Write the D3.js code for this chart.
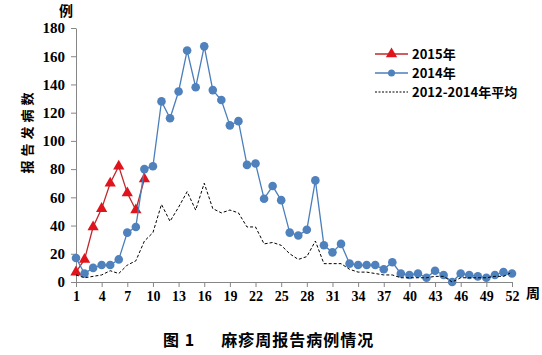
<!DOCTYPE html>
<html><head><meta charset="utf-8">
<script src="https://cdn.jsdelivr.net/npm/d3@7"></script>
<style>
html,body{margin:0;padding:0;background:#fff;overflow:hidden;}
svg{display:block;}
</style></head>
<body><svg id="chart" width="542" height="355"></svg>
<script>
const weeks = [1,2,3,4,5,6,7,8,9,10,11,12,13,14,15,16,17,18,19,20,21,22,23,24,25,26,27,28,29,30,31,32,33,34,35,36,37,38,39,40,41,42,43,44,45,46,47,48,49,50,51,52];
const xTickLabels = [1,4,7,10,13,16,19,22,25,28,31,34,37,40,43,46,49,52];
const yTickLabels = [0,20,40,60,80,100,120,140,160,180];
const cases2015 = [7,16,39,52,70,82,63,51,73];
const cases2014 = [17,6,10,12,12,16,35,39,80,82,128,116,135,164,138,167,136,129,111,114,83,84,59,68,58,35,33,37,72,26,21,27,13,12,12,12,9,14,6,5,6,3,8,5,0,6,5,4,3,5,7,6];
const avg2012_2014 = [5,3,4,5,8,6,12,15,29,35,55,43,53,64,51,70,52,49,51,49,39,39,27,28,26,20,16,18,29,13,13,13,9,7,7,6,5,5,3,3,3,3,4,4,0,3,3,3,3,4,4,7];
const seriesNames = ["2015年","2014年","2012-2014年平均"];

const svg = d3.select("#chart");
const x = d3.scaleLinear().domain([1,52]).range([76,512]);
const y = d3.scaleLinear().domain([0,180]).range([282,28]);
const numFont = "'Liberation Serif','Times New Roman',serif";
const cjkFont = "'Noto Sans CJK SC','Noto Sans',sans-serif";

// y axis
const ya = svg.append("g").attr("transform","translate(76,0)")
  .call(d3.axisLeft(y).tickValues(yTickLabels).tickSize(5).tickSizeOuter(0).tickPadding(6));
ya.selectAll("path,line").attr("stroke","#868686");
ya.selectAll("text").attr("font-family",numFont).attr("font-weight","bold").attr("font-size","15px").attr("fill","#000");

// x axis
const xa = svg.append("g").attr("transform","translate(0,282)")
  .call(d3.axisBottom(x).tickValues(xTickLabels).tickSize(5).tickSizeOuter(0).tickPadding(4));
xa.selectAll("path,line").attr("stroke","#868686");
xa.selectAll("text").attr("font-family",numFont).attr("font-weight","bold").attr("font-size","14px").attr("fill","#000");

// axis titles
svg.append("text").attr("x",66).attr("y",16).attr("text-anchor","middle")
  .attr("font-family",cjkFont).attr("font-weight","bold").attr("font-size","14px").text("例");
svg.append("text").attr("transform","translate(32,131) rotate(-90)").attr("text-anchor","middle")
  .attr("font-family",cjkFont).attr("font-weight","bold").attr("font-size","13px").attr("letter-spacing","4px").text("报告发病数");
svg.append("text").attr("x",526).attr("y",298)
  .attr("font-family",cjkFont).attr("font-weight","bold").attr("font-size","14px").text("周");

// title
svg.append("text").attr("x",163).attr("y",346)
  .attr("font-family",cjkFont).attr("font-weight","bold").attr("font-size","16px").attr("letter-spacing","1px").attr("xml:space","preserve").text("图 1　  麻疹周报告病例情况");

const line = d3.line().x((d,i)=>x(weeks[i])).y(d=>y(d));

// 2015
svg.append("path").datum(cases2015).attr("d",line).attr("fill","none").attr("stroke","#c0282d").attr("stroke-width",1.3);
const tri = d3.symbol().type(d3.symbolTriangle).size(55);
svg.selectAll(".t15").data(cases2015).enter().append("path")
  .attr("d",tri).attr("transform",(d,i)=>`translate(${x(weeks[i])},${y(d)})`).attr("fill","#e0141c");

// 2014
svg.append("path").datum(cases2014).attr("d",line).attr("fill","none").attr("stroke","#4a7ebb").attr("stroke-width",1.3);
svg.selectAll(".c14").data(cases2014).enter().append("circle")
  .attr("cx",(d,i)=>x(weeks[i])).attr("cy",d=>y(d)).attr("r",4.3).attr("fill","#4f81bd");

// average
svg.append("path").datum(avg2012_2014).attr("d",line).attr("fill","none").attr("stroke","#000").attr("stroke-width",1).attr("stroke-dasharray","3,2");

// legend
const lg = svg.append("g");
const ly = [54,73,92];
lg.append("line").attr("x1",375).attr("x2",408).attr("y1",ly[0]).attr("y2",ly[0]).attr("stroke","#c0282d").attr("stroke-width",1.3);
lg.append("path").attr("d",tri).attr("transform",`translate(391.5,${ly[0]})`).attr("fill","#e0141c");
lg.append("line").attr("x1",375).attr("x2",408).attr("y1",ly[1]).attr("y2",ly[1]).attr("stroke","#4a7ebb").attr("stroke-width",1.3);
lg.append("circle").attr("cx",391.5).attr("cy",ly[1]).attr("r",3.5).attr("fill","#4f81bd");
lg.append("line").attr("x1",375).attr("x2",408).attr("y1",ly[2]).attr("y2",ly[2]).attr("stroke","#000").attr("stroke-width",1).attr("stroke-dasharray","2,1.5");
seriesNames.forEach((n,i)=>{
  lg.append("text").attr("x",412).attr("y",ly[i]).attr("dy","0.36em")
    .attr("font-family",cjkFont).attr("font-weight","bold").attr("font-size","13px").text(n);
});
</script></body></html>
